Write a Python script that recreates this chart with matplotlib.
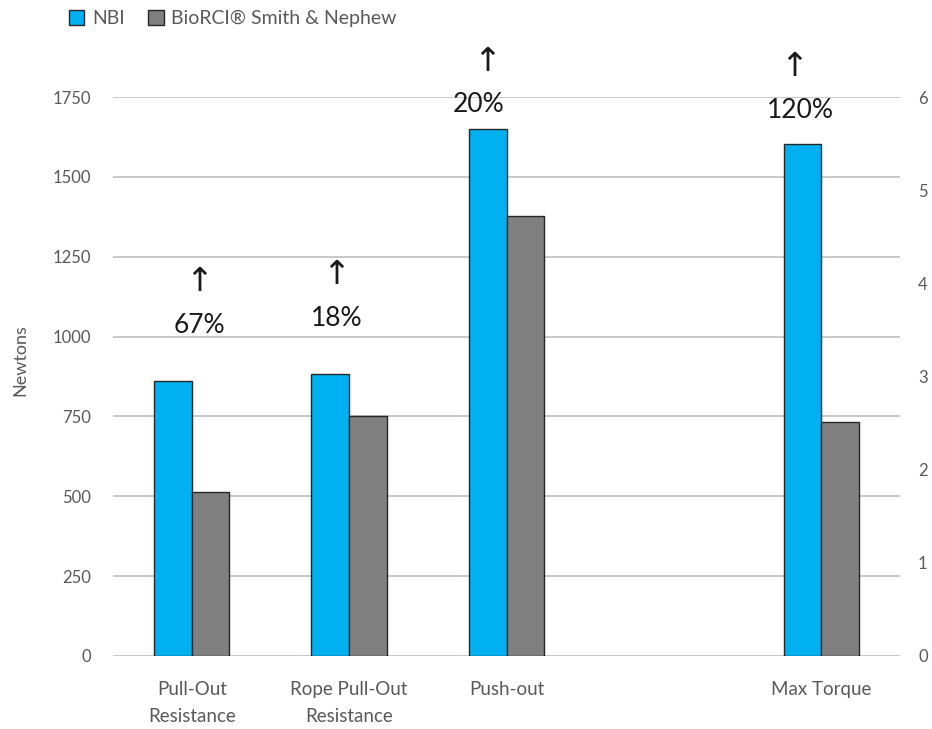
import numpy as np
import matplotlib.pyplot as plt

# Data
categories = ["Pull-Out\nResistance", "Rope Pull-Out\nResistance", "Push-out", "", "Max Torque"]
newton_pos = [0, 1, 2]
nbi_newtons = [861, 883, 1650]
bio_newtons = [513, 751, 1377]
torque_pos = [4]
nbi_torque = [5.5]
bio_torque = [2.51]
gains = ["67%", "18%", "20%", "120%"]
gain_x = [0.05, 0.92, 1.82, 3.87]
gain_y = [1036, 1058, 1725, 1709]
arrow_x = [0.05, 0.92, 1.88, 3.83]

nbi_color = "#00B0F0"
bio_color = "#808080"
grey_txt = "#595959"

plt.rcParams['font.family'] = ['Lato', 'DejaVu Sans']

fig = plt.figure(figsize=(9.32, 7.29), dpi=100)
ax = fig.add_axes([113/932, 1 - 656/729, 787/932, 559/729])
ax2 = ax.twinx()

w = 0.24
x = np.array(newton_pos)
ax.bar(x - w/2, nbi_newtons, w, color=nbi_color, edgecolor="#262626", linewidth=1, zorder=3, label="NBI")
ax.bar(x + w/2, bio_newtons, w, color=bio_color, edgecolor="#262626", linewidth=1, zorder=3,
       label="BioRCI® Smith & Nephew")
xt = np.array(torque_pos)
ax2.bar(xt - w/2, nbi_torque, w, color=nbi_color, edgecolor="#262626", linewidth=1, zorder=3)
ax2.bar(xt + w/2, bio_torque, w, color=bio_color, edgecolor="#262626", linewidth=1, zorder=3)

ax.set_xlim(-0.5, 4.5)
ax.set_ylim(0, 1750)
ax2.set_ylim(0, 6)
ax.set_yticks(np.arange(0, 1751, 250))
ax2.set_yticks(np.arange(0, 7, 1))
ax.yaxis.grid(True, color="#BFBFBF", linewidth=1.2, zorder=0)
ax.set_axisbelow(True)

ax.set_xticks(range(len(categories)))
ax.set_xticklabels(categories, fontsize=13.5, color=grey_txt, linespacing=1.75)
for a in (ax, ax2):
    for s in a.spines.values():
        s.set_visible(False)
    a.tick_params(length=0, labelsize=12, labelcolor=grey_txt)
ax.tick_params(axis='y', pad=16)
ax2.tick_params(axis='y', pad=13)
ax.tick_params(axis='x', pad=18, labelsize=13.5)
ax.set_ylabel("Newtons", fontsize=13, color=grey_txt)
ax.yaxis.set_label_coords(-0.108, 0.53)

for g, gx, gy, axx in zip(gains, gain_x, gain_y, arrow_x):
    ax.text(gx, gy, g, ha="center", va="center", fontsize=19, color="#1a1a1a", clip_on=False, zorder=5)
    ax.text(axx, gy + 135, "↑", ha="center", va="center",
            fontsize=24, color="#1a1a1a", family="DejaVu Sans", clip_on=False, zorder=5)

fig.legend(loc="upper left", bbox_to_anchor=(0.055, 1.01), ncol=2, frameon=False,
           fontsize=14, labelcolor=grey_txt, handlelength=0.8, handleheight=0.8,
           handletextpad=0.4, columnspacing=1.2)

fig.savefig("out.png", dpi=100)
